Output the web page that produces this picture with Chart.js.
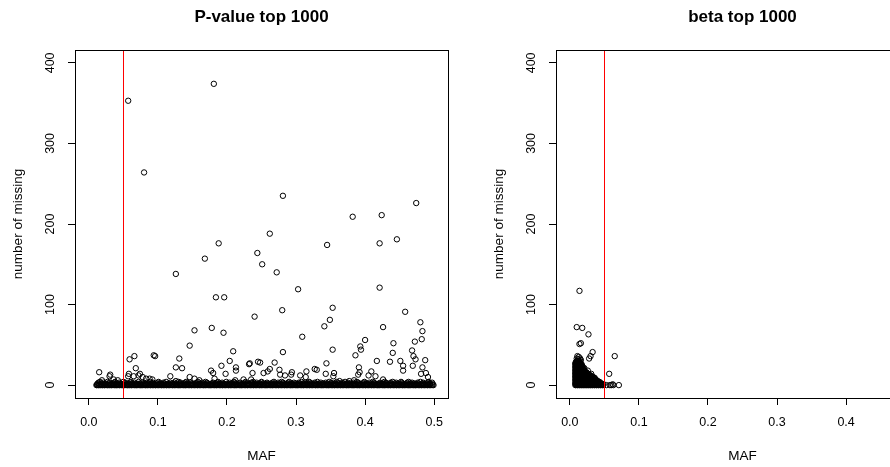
<!DOCTYPE html>
<html>
<head>
<meta charset="utf-8">
<title>missing vs MAF</title>
<script src="https://cdn.jsdelivr.net/npm/chart.js@4/dist/chart.umd.min.js"></script>
<style>
  html, body { margin: 0; padding: 0; background: #fff; overflow: hidden; }
  .panel { position: absolute; top: 0; width: 481px; height: 467px; }
  #left { left: 0; }
  #right { left: 481px; }
</style>
</head>
<body>
<div class="panel" id="left"><canvas id="pvalChart"></canvas></div>
<div class="panel" id="right"><canvas id="betaChart"></canvas></div>
<script>
// axes
const mafTicks = [0, 0.1, 0.2, 0.3, 0.4, 0.5]
const missingTicks = [0, 100, 200, 300, 400]
const mafCutoff = 0.05

// P-value top 1000: the dense band near zero, one MAF list per missing count
const pvalBandMissing = [0, 1, 2, 3, 4]
const pvalBandMaf = [
    [0.011,0.012,0.014,0.015,0.017,0.019,0.020,0.022,0.023,0.025,0.027,0.028,0.030,0.032,0.033,0.035,0.037,0.039,0.040,0.042,
     0.044,0.045,0.047,0.049,0.050,0.052,0.054,0.056,0.057,0.059,0.061,0.062,0.064,0.066,0.068,0.069,0.071,0.073,0.075,0.076,
     0.078,0.080,0.082,0.083,0.085,0.087,0.089,0.090,0.092,0.094,0.096,0.097,0.099,0.101,0.103,0.105,0.106,0.108,0.110,0.112,
     0.113,0.115,0.117,0.119,0.121,0.122,0.124,0.126,0.128,0.130,0.131,0.133,0.135,0.137,0.139,0.140,0.142,0.144,0.146,0.148,
     0.149,0.151,0.153,0.155,0.157,0.158,0.160,0.162,0.164,0.166,0.167,0.169,0.171,0.173,0.175,0.176,0.178,0.180,0.182,0.184,
     0.185,0.187,0.189,0.191,0.193,0.194,0.196,0.198,0.200,0.202,0.203,0.205,0.207,0.209,0.211,0.212,0.214,0.216,0.218,0.220,
     0.221,0.223,0.225,0.227,0.229,0.230,0.232,0.234,0.236,0.238,0.239,0.241,0.243,0.245,0.247,0.248,0.250,0.252,0.254,0.256,
     0.257,0.259,0.261,0.263,0.265,0.266,0.268,0.270,0.272,0.274,0.275,0.277,0.279,0.281,0.283,0.284,0.286,0.288,0.290,0.292,
     0.293,0.295,0.297,0.299,0.301,0.302,0.304,0.306,0.308,0.310,0.311,0.313,0.315,0.317,0.319,0.320,0.322,0.324,0.326,0.328,
     0.329,0.331,0.333,0.335,0.337,0.338,0.340,0.342,0.344,0.346,0.347,0.349,0.351,0.353,0.355,0.356,0.358,0.360,0.362,0.364,
     0.365,0.367,0.369,0.371,0.373,0.374,0.376,0.378,0.380,0.382,0.383,0.385,0.387,0.389,0.391,0.392,0.394,0.396,0.398,0.400,
     0.401,0.403,0.405,0.407,0.409,0.410,0.412,0.414,0.416,0.418,0.419,0.421,0.423,0.425,0.427,0.428,0.430,0.432,0.434,0.436,
     0.437,0.439,0.441,0.443,0.445,0.446,0.448,0.450,0.452,0.454,0.455,0.457,0.459,0.461,0.463,0.464,0.466,0.468,0.470,0.472,
     0.473,0.475,0.477,0.479,0.481,0.482,0.484,0.486,0.488,0.490,0.491,0.493,0.495,0.497,0.499],
    [0.012,0.016,0.018,0.021,0.024,0.027,0.031,0.034,0.036,0.039,0.043,0.046,0.048,0.051,0.055,0.058,0.060,0.063,0.067,0.070,
     0.072,0.075,0.079,0.081,0.084,0.088,0.091,0.093,0.095,0.100,0.102,0.104,0.107,0.111,0.114,0.116,0.120,0.123,0.125,0.129,
     0.132,0.134,0.138,0.141,0.143,0.147,0.150,0.152,0.156,0.159,0.161,0.165,0.168,0.170,0.174,0.177,0.179,0.183,0.186,0.188,
     0.192,0.195,0.197,0.201,0.204,0.206,0.210,0.213,0.215,0.219,0.222,0.224,0.228,0.231,0.233,0.237,0.240,0.242,0.246,0.249,
     0.251,0.255,0.258,0.260,0.264,0.267,0.269,0.273,0.276,0.278,0.282,0.285,0.287,0.291,0.294,0.296,0.300,0.303,0.305,0.309,
     0.312,0.314,0.318,0.321,0.323,0.327,0.330,0.332,0.336,0.339,0.341,0.345,0.348,0.350,0.354,0.357,0.359,0.363,0.366,0.368,
     0.372,0.375,0.377,0.381,0.384,0.386,0.390,0.393,0.395,0.399,0.402,0.404,0.408,0.411,0.413,0.417,0.420,0.422,0.426,0.429,
     0.431,0.435,0.438,0.440,0.444,0.447,0.449,0.453,0.456,0.458,0.462,0.465,0.467,0.471,0.474,0.476,0.480,0.483,0.485,0.489,
     0.492,0.494,0.498],
    [0.013,0.018,0.024,0.029,0.035,0.041,0.046,0.052,0.057,0.063,0.069,0.074,0.081,0.086,0.092,0.098,0.104,0.109,0.115,0.121,
     0.127,0.132,0.138,0.143,0.149,0.155,0.161,0.166,0.172,0.178,0.184,0.190,0.195,0.201,0.207,0.213,0.218,0.224,0.230,0.236,
     0.241,0.247,0.253,0.259,0.264,0.270,0.276,0.282,0.287,0.293,0.299,0.305,0.310,0.316,0.322,0.328,0.333,0.339,0.345,0.351,
     0.356,0.362,0.368,0.374,0.379,0.385,0.391,0.397,0.402,0.408,0.414,0.420,0.425,0.431,0.437,0.443,0.448,0.454,0.460,0.466,
     0.471,0.477,0.483,0.489,0.494],
    [0.014,0.021,0.030,0.037,0.044,0.053,0.060,0.066,0.077,0.084,0.093,0.100,0.108,0.118,0.124,0.133,0.140,0.147,0.156,0.164,
     0.171,0.180,0.186,0.193,0.204,0.211,0.219,0.226,0.235,0.243,0.250,0.258,0.266,0.274,0.281,0.289,0.297,0.304,0.313,0.320,
     0.327,0.336,0.343,0.351,0.360,0.367,0.375,0.383,0.390,0.398,0.406,0.413,0.422,0.430,0.437,0.445,0.453,0.461,0.468,0.476,
     0.484,0.491,0.497],
    [0.016,0.027,0.038,0.050,0.061,0.072,0.089,0.101,0.112,0.130,0.141,0.158,0.169,0.187,0.199,0.210,0.227,0.238,0.250,0.268,
     0.279,0.290,0.308,0.319,0.331,0.348,0.359,0.371,0.388,0.399,0.411,0.428,0.440,0.452,0.463,0.480,0.492]
]
// P-value top 1000: scattered points above the band
const pvalMaf = [0.057,0.181,0.080,0.281,0.474,0.424,0.382,0.262,0.446,0.188,0.421,0.345,0.244,0.168,0.251,0.272,0.126,0.421,
    0.303,0.184,0.196,0.353,0.280,0.458,0.240,0.349,0.480,0.341,0.426,0.178,0.153,0.483,0.195,0.309,0.482,0.400,0.472,0.441,
    0.146,0.393,0.353,0.394,0.468,0.209,0.281,0.440,0.386,0.094,0.096,0.066,0.470,0.131,0.059,0.473,0.451,0.417,0.204,0.245,
    0.248,0.436,0.487,0.233,0.269,0.344,0.232,0.192,0.469,0.455,0.126,0.213,0.135,0.068,0.483,0.391,0.276,0.330,0.327,0.262,
    0.259,0.315,0.409,0.213,0.455,0.177,0.015,0.294,0.392,0.180,0.253,0.355,0.237,0.488,0.198,0.058,0.074,0.343,0.481,0.031,
    0.277,0.293,0.390,0.072,0.284,0.306,0.405,0.030,0.057,0.065,0.118,0.354,0.415,0.078,0.146,0.314,0.491,0.083,0.088,0.153,
    0.182,0.036,0.092,0.224,0.235,0.426,0.019,0.042,0.160,0.212,0.384,0.126,0.363,0.377]
const pvalMissing = [353,374,264,235,226,211,209,188,181,176,176,174,164,157,150,140,138,121,
    119,109,109,96,93,91,85,81,78,73,72,71,68,67,65,60,57,56,54,52,
    49,48,44,44,43,42,41,40,37,37,36,36,36,33,32,32,30,30,30,29,
    28,29,31,27,28,27,26,24,24,24,22,22,21,21,22,22,19,19,20,20,
    17,17,17,18,18,18,16,16,16,15,15,15,15,15,14,14,14,14,14,13,
    13,13,13,12,12,12,12,11,11,11,11,11,11,10,10,10,10,8,8,8,
    8,7,7,7,7,7,6,6,6,6,6,5,5,5]

// beta top 1000: the dense cluster at low MAF, one MAF list per missing count
const betaClusterMissing = [0, 1, 2, 3, 4, 5, 6, 7, 8, 9, 10, 11, 12, 13, 14, 15, 16,
    17, 18, 19, 20, 21, 22, 23, 24, 25, 26, 27, 28, 29, 30]
const betaClusterMaf = [
    [0.008,0.009,0.011,0.012,0.014,0.015,0.017,0.018,0.020,0.021,0.023,0.024,0.026,0.027,0.029,0.030,0.032,0.033,0.035,0.036,
     0.038,0.039,0.041,0.042,0.044,0.045,0.047,0.048],
    [0.009,0.011,0.013,0.015,0.017,0.019,0.021,0.023,0.025,0.027,0.029,0.031,0.033,0.035,0.037,0.039,0.041,0.043,0.045,0.047],
    [0.008,0.010,0.012,0.014,0.016,0.018,0.020,0.022,0.024,0.026,0.028,0.030,0.032,0.034,0.036,0.038,0.040,0.042,0.044,0.046],
    [0.008,0.010,0.012,0.014,0.016,0.018,0.020,0.022,0.024,0.026,0.028,0.030,0.032,0.034,0.036,0.038,0.040,0.042,0.044],
    [0.009,0.011,0.013,0.015,0.017,0.019,0.021,0.023,0.025,0.027,0.029,0.031,0.033,0.035,0.037,0.039,0.041,0.043],
    [0.009,0.011,0.013,0.015,0.017,0.019,0.021,0.023,0.025,0.027,0.029,0.031,0.033,0.035,0.037,0.040],
    [0.008,0.010,0.012,0.014,0.016,0.018,0.020,0.022,0.024,0.026,0.028,0.030,0.032,0.034,0.036,0.039],
    [0.008,0.010,0.012,0.014,0.016,0.018,0.020,0.022,0.024,0.026,0.028,0.030,0.032,0.034,0.037],
    [0.009,0.011,0.013,0.015,0.017,0.019,0.021,0.023,0.025,0.027,0.029,0.031,0.033,0.036],
    [0.009,0.011,0.013,0.015,0.017,0.019,0.021,0.023,0.025,0.027,0.029,0.032,0.035],
    [0.008,0.010,0.012,0.014,0.016,0.018,0.020,0.022,0.024,0.026,0.028,0.031,0.034],
    [0.008,0.010,0.012,0.014,0.016,0.018,0.020,0.022,0.024,0.026,0.029,0.032],
    [0.009,0.011,0.013,0.015,0.017,0.019,0.021,0.023,0.025,0.027,0.030],
    [0.009,0.011,0.013,0.015,0.017,0.019,0.021,0.023,0.025,0.028],
    [0.008,0.010,0.012,0.014,0.016,0.018,0.020,0.022,0.024,0.027],
    [0.008,0.010,0.012,0.014,0.016,0.018,0.020,0.022,0.025],
    [0.009,0.011,0.013,0.015,0.017,0.019,0.021,0.024],
    [0.009,0.011,0.013,0.015,0.017,0.019,0.022],
    [0.008,0.010,0.012,0.014,0.016,0.018,0.021],
    [0.008,0.010,0.012,0.014,0.016,0.019],
    [0.009,0.011,0.013,0.015,0.017,0.020],
    [0.009,0.011,0.013,0.015,0.018],
    [0.008,0.010,0.012,0.014,0.016,0.019],
    [0.008,0.010,0.012,0.014,0.017],
    [0.009,0.011,0.013,0.015,0.018],
    [0.009,0.011,0.013,0.016],
    [0.008,0.010,0.012,0.014,0.016],
    [0.008,0.010,0.012,0.015],
    [0.009,0.011,0.013,0.015],
    [0.009,0.011,0.013],
    [0.010,0.012,0.014]
]
// beta top 1000: scattered points
const betaMaf = [0.014,0.010,0.018,0.027,0.016,0.014,0.033,0.065,0.030,0.011,0.013,0.015,0.028,0.010,0.016,0.012,0.017,0.021,
    0.026,0.057,0.031,0.036,0.040,0.053,0.058,0.060,0.062,0.063,0.071,0.049]
const betaMissing = [117,72,71,63,52,51,41,36,36,36,35,33,33,33,31,32,26,21,
    18,14,14,9,5,0,0,0,1,0,0,1]

const fontFamily = '"Liberation Sans", Arial, sans-serif'
Chart.defaults.font.family = fontFamily
Chart.defaults.color = '#000'

function toPoints(bandMissing, bandMaf, maf, missing) {
    const pts = []
    bandMissing.forEach((m, i) => bandMaf[i].forEach(f => pts.push({x: f, y: m})))
    maf.forEach((f, i) => pts.push({x: f, y: missing[i]}))
    return pts
}

// R style box, red abline and rotated y tick labels
const rDecor = {
    id: 'rDecor',
    afterDatasetsDraw(chart) {
        const {ctx, chartArea: a, scales: {x}} = chart
        ctx.save()
        const cx = Math.round(x.getPixelForValue(mafCutoff)) + 0.5
        ctx.strokeStyle = '#ff0000'
        ctx.lineWidth = 1
        ctx.beginPath()
        ctx.moveTo(cx, a.top)
        ctx.lineTo(cx, a.bottom)
        ctx.stroke()
        ctx.strokeStyle = '#000'
        ctx.strokeRect(Math.round(a.left) + 0.5, Math.round(a.top) + 0.5,
            Math.round(a.right - a.left), Math.round(a.bottom - a.top))
        ctx.restore()
    },
    afterDraw(chart) {
        const {ctx, chartArea: a, scales: {y}} = chart
        ctx.save()
        ctx.fillStyle = '#000'
        ctx.font = '12.5px ' + fontFamily
        ctx.textAlign = 'center'
        ctx.textBaseline = 'middle'
        y.ticks.forEach(t => {
            ctx.save()
            ctx.translate(a.left - 24, y.getPixelForValue(t.value))
            ctx.rotate(-Math.PI / 2)
            ctx.fillText(String(t.value), 0, 0)
            ctx.restore()
        })
        ctx.restore()
    }
}

function panelOptions(title) {
    const tickGrid = {drawOnChartArea: false, drawTicks: true, tickLength: 7, color: '#000', tickColor: '#000', lineWidth: 1}
    return {
        responsive: true,
        maintainAspectRatio: false,
        animation: false,
        events: [],
        layout: {padding: {left: 0, right: 33, top: 0, bottom: 0}},
        plugins: {
            legend: {display: false},
            tooltip: {enabled: false},
            title: {
                display: true,
                text: title,
                fullSize: false,
                color: '#000',
                font: {size: 17, weight: 'bold'},
                padding: {top: 7, bottom: 22.6}
            }
        },
        scales: {
            x: {
                type: 'linear',
                min: -0.02,
                max: 0.52,
                afterBuildTicks: axis => { axis.ticks = mafTicks.map(v => ({value: v})) },
                afterFit: scale => { scale.height = 69 },
                grid: tickGrid,
                border: {display: false},
                ticks: {color: '#000', font: {size: 12.5}, padding: 10, maxRotation: 0, callback: v => v.toFixed(1)},
                title: {display: true, text: 'MAF', color: '#000', font: {size: 13.5}, padding: {top: 0, bottom: 3}}
            },
            y: {
                type: 'linear',
                min: -16,
                max: 416,
                afterBuildTicks: axis => { axis.ticks = missingTicks.map(v => ({value: v})) },
                afterFit: scale => { scale.width = 75 },
                grid: tickGrid,
                border: {display: false},
                ticks: {display: false},
                title: {display: true, text: 'number of missing', color: '#000', font: {size: 13.5}, padding: {top: 10, bottom: 0}}
            }
        }
    }
}

function pointSet(data) {
    return {
        data: data,
        pointStyle: 'circle',
        pointRadius: 2.7,
        pointBorderWidth: 1,
        borderColor: '#000',
        backgroundColor: 'rgba(0,0,0,0)'
    }
}

new Chart(document.getElementById('pvalChart'), {
    type: 'scatter',
    data: {datasets: [pointSet(toPoints(pvalBandMissing, pvalBandMaf, pvalMaf, pvalMissing))]},
    options: panelOptions('P-value top 1000'),
    plugins: [rDecor]
})

new Chart(document.getElementById('betaChart'), {
    type: 'scatter',
    data: {datasets: [pointSet(toPoints(betaClusterMissing, betaClusterMaf, betaMaf, betaMissing))]},
    options: panelOptions('beta top 1000'),
    plugins: [rDecor]
})
</script>
</body>
</html>
